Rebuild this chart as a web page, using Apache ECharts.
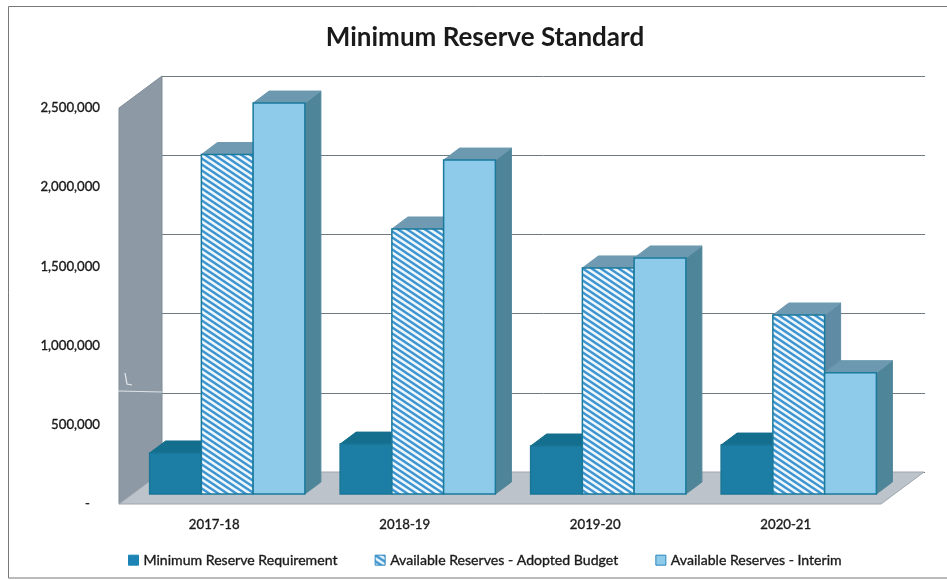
<!DOCTYPE html>
<html>
<head>
<meta charset="utf-8">
<title>Minimum Reserve Standard</title>
<script src="https://cdn.jsdelivr.net/npm/echarts@6/dist/echarts.min.js"></script>
<style>
  html, body { margin: 0; padding: 0; background: #ffffff; }
  #chart { width: 947px; height: 580px; }
</style>
</head>
<body>
<div id="chart"></div>
<script>
// Fiscal years along the floor of the chart
const fiscalYears = ['2017-18', '2018-19', '2019-20', '2020-21'];

// Reserve balances per fiscal year, in dollars
const minimumRequirement = [259000, 315000, 303000, 309000];
const adoptedBudget = [2143000, 1673000, 1427000, 1130000];
const interim = [2468000, 2108000, 1490000, 766000];

// Value axis ticks
const axisMin = 0;
const axisMax = 2500000;
const axisStep = 500000;

const seriesNames = [
  'Minimum Reserve Requirement',
  'Available Reserves - Adopted Budget',
  'Available Reserves - Interim'
];

const FONT = 'Lato, Carlito, sans-serif';
const INK = '#1a1a1a';

// Oblique projection: how far the back wall sits from the front plane, and how deep a bar is
const WALL_DEPTH = [43, -32];
const BAR_DEPTH = [16, -12];
const CLUSTER_SHARE = 0.815;

function hatchTile() {
  const w = 9, h = 6;
  const c = document.createElement('canvas');
  c.width = w;
  c.height = h;
  const g = c.getContext('2d');
  g.fillStyle = '#eef7fc';
  g.fillRect(0, 0, w, h);
  g.strokeStyle = '#3f95d0';
  g.lineWidth = 2.4;
  // run each stripe past the tile so the repeats join without notches
  for (let o = -2 * w; o <= 2 * w; o += w) {
    g.beginPath();
    g.moveTo(o - w, -h);
    g.lineTo(o + 2 * w, 2 * h);
    g.stroke();
  }
  return c;
}

const hatchFill = { image: hatchTile(), repeat: 'repeat' };

const palettes = [
  { front: '#1c7ea4', top: '#146f8e', side: '#146f8e', edge: '#1a7696' },
  { front: hatchFill, top: '#6f9ab1', side: '#5f8ca4', edge: '#1a7a9c' },
  { front: '#8ecaea', top: '#6c99af', side: '#4f8599', edge: '#1a7a9c' }
];

function polygon(points, fill, stroke, lineWidth) {
  return {
    type: 'polygon',
    shape: { points },
    style: { fill, stroke: stroke || fill, lineWidth: lineWidth || 1 }
  };
}

// One extruded bar: side and top faces first, the front face over them
function boxRenderer(seriesIndex) {
  const colours = palettes[seriesIndex];
  return function (params, api) {
    const base = api.coord([api.value(0), 0]);
    const head = api.coord([api.value(0), api.value(1)]);
    const width = api.size([1, 0])[0] * CLUSTER_SHARE / 3;
    const x0 = base[0] - width * 1.5 + width * seriesIndex;
    const x1 = x0 + width;
    const [dx, dy] = BAR_DEPTH;
    return {
      type: 'group',
      children: [
        polygon([[x1, base[1]], [x1 + dx, base[1] + dy], [x1 + dx, head[1] + dy], [x1, head[1]]], colours.side),
        polygon([[x0, head[1]], [x0 + dx, head[1] + dy], [x1 + dx, head[1] + dy], [x1, head[1]]], colours.top),
        polygon([[x0, base[1]], [x0, head[1]], [x1, head[1]], [x1, base[1]]], colours.front, colours.edge, 1.5)
      ]
    };
  };
}

// Side wall and floor of the plot box, spanning the front grid and its depth offset
function shellRenderer(params) {
  const box = params.coordSys;
  const [dx, dy] = WALL_DEPTH;
  const left = box.x, right = box.x + box.width, top = box.y, bottom = box.y + box.height;
  return {
    type: 'group',
    children: [
      polygon([[left, top], [left + dx, top + dy], [left + dx, bottom + dy], [left, bottom]], '#8d9aa6', '#7f8c98'),
      polygon([[left, bottom], [left + dx, bottom + dy], [right + dx, bottom + dy], [right, bottom]], '#bcc3ca', '#9ea5ac')
    ]
  };
}

const hiddenCategory = (gridIndex) => ({
  type: 'category', gridIndex, data: fiscalYears, show: false
});
const valueAxis = (gridIndex, extra) => Object.assign({
  type: 'value', gridIndex, min: axisMin, max: axisMax, interval: axisStep
}, extra);

const labelText = {
  fontFamily: FONT,
  fontSize: 13.2,
  color: INK,
  textBorderColor: INK,
  textBorderWidth: 0.35
};

const chart = echarts.init(document.getElementById('chart'), null, { renderer: 'canvas' });

chart.setOption({
  animation: false,
  backgroundColor: '#ffffff',
  title: {
    text: 'Minimum Reserve Standard',
    left: 480,
    top: 20,
    textAlign: 'center',
    textStyle: { fontFamily: FONT, fontSize: 26, fontWeight: 'bold', color: INK }
  },
  graphic: [
    {
      type: 'rect',
      silent: true,
      z: -1,
      shape: { x: 8.5, y: 6.5, width: 960, height: 571.5 },
      style: { fill: 'none', stroke: '#77777c', lineWidth: 1 }
    },
    // pale crease and pen mark across the side wall
    {
      type: 'polyline',
      silent: true,
      z: 20,
      shape: { points: [[118, 391], [162, 392]] },
      style: { fill: 'none', stroke: '#dfe4e8', lineWidth: 1 }
    },
    {
      type: 'polyline',
      silent: true,
      z: 20,
      shape: { points: [[125, 373], [127, 384], [132, 385]] },
      style: { fill: 'none', stroke: '#e6eaed', lineWidth: 1.2 }
    }
  ],
  legend: {
    left: 123,
    top: 548,
    itemWidth: 10,
    itemHeight: 10,
    itemGap: 37,
    icon: 'rect',
    textStyle: Object.assign({}, labelText, { fontSize: 14.1 }),
    data: [
      { name: seriesNames[0], itemStyle: { color: '#1c84b4', borderColor: '#1c84b4', borderWidth: 1 } },
      { name: seriesNames[1], itemStyle: { color: hatchFill, borderColor: '#2a86bd', borderWidth: 1 } },
      { name: seriesNames[2], itemStyle: { color: '#8ecaea', borderColor: '#2a86bd', borderWidth: 1 } }
    ]
  },
  grid: [
    // back wall
    { left: 162, top: 76, width: 763, height: 396 },
    // front plane, carries the axis labels
    { left: 119, top: 108, width: 762, height: 396 },
    // plane the bars stand on
    { left: 132, top: 98, width: 762, height: 396 }
  ],
  xAxis: [
    hiddenCategory(0),
    {
      type: 'category',
      gridIndex: 1,
      data: fiscalYears,
      axisLine: { show: false },
      axisTick: { show: false },
      axisLabel: Object.assign({ margin: 14 }, labelText)
    },
    hiddenCategory(2)
  ],
  yAxis: [
    valueAxis(0, {
      axisLine: { show: false },
      axisTick: { show: false },
      axisLabel: { show: false },
      splitLine: { show: true, lineStyle: { color: '#6f7a80', width: 1 } }
    }),
    valueAxis(1, {
      axisLine: { show: false },
      axisTick: { show: false },
      splitLine: { show: false },
      axisLabel: Object.assign({
        margin: 19,
        padding: [6, 0, 0, 0],
        // the accounting format leaves blanks after the dash on zero
        formatter: (v) => (v === 0 ? '-\u00a0\u00a0\u00a0' : v.toLocaleString('en-US'))
      }, labelText)
    }),
    valueAxis(2, { show: false })
  ],
  series: [
    {
      type: 'custom',
      xAxisIndex: 1,
      yAxisIndex: 1,
      silent: true,
      data: [[0, 0]],
      renderItem: shellRenderer,
      z: 1
    }
  ].concat([minimumRequirement, adoptedBudget, interim].map((values, i) => ({
    type: 'custom',
    name: seriesNames[i],
    xAxisIndex: 2,
    yAxisIndex: 2,
    encode: { x: 0, y: 1 },
    data: values.map((v, c) => [c, v]),
    renderItem: boxRenderer(i),
    itemStyle: { color: palettes[i].front === hatchFill ? '#3f95d0' : palettes[i].front },
    z: 2 + i
  })))
});
</script>
</body>
</html>
